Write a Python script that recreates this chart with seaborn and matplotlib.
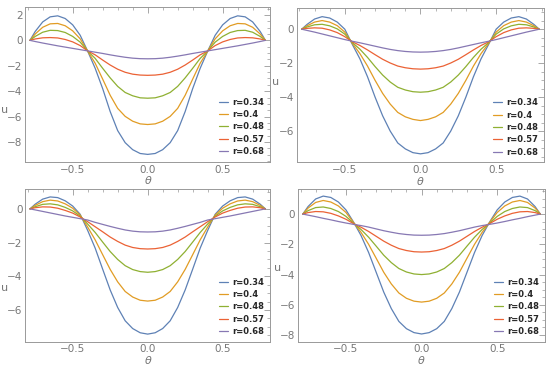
import pandas as pd
import seaborn as sns
import matplotlib.pyplot as plt
from matplotlib.ticker import MultipleLocator

# half profiles (theta >= 0), curves are symmetric in theta
theta_half = [0.0, 0.05, 0.1, 0.15, 0.2, 0.25, 0.3, 0.35, 0.4, 0.45,
              0.5, 0.55, 0.6, 0.65, 0.7, 0.75, 0.785]

r_labels = ["r=0.34", "r=0.4", "r=0.48", "r=0.57", "r=0.68"]
colors = ["#5E81B5", "#E19C24", "#8FB032", "#EB6235", "#8778B3"]

panel1 = [
    [-8.97, -8.9, -8.6, -8.05, -7.1, -5.6, -3.8, -2.2, -0.85, 0.4, 1.22, 1.72, 1.93, 1.85, 1.45, 0.7, 0],
    [-6.62, -6.57, -6.36, -5.98, -5.35, -4.32, -3.05, -1.8, -0.85, 0.12, 0.75, 1.15, 1.33, 1.3, 1.03, 0.5, 0],
    [-4.55, -4.52, -4.36, -4.1, -3.62, -2.95, -2.2, -1.42, -0.84, -0.14, 0.31, 0.62, 0.77, 0.79, 0.64, 0.31, 0],
    [-2.75, -2.73, -2.66, -2.51, -2.27, -1.94, -1.55, -1.14, -0.83, -0.41, -0.12, 0.07, 0.19, 0.22, 0.2, 0.11, 0],
    [-1.45, -1.44, -1.4, -1.33, -1.24, -1.14, -1.03, -0.93, -0.83, -0.73, -0.63, -0.53, -0.43, -0.32, -0.21, -0.09, 0],
]
panel2 = [
    [-7.34, -7.27, -7.05, -6.7, -6.0, -5.1, -4.0, -2.8, -1.75, -0.9, 0.0, 0.42, 0.66, 0.74, 0.6, 0.28, 0],
    [-5.38, -5.31, -5.16, -4.9, -4.41, -3.78, -3.01, -2.17, -1.44, -0.84, -0.17, 0.21, 0.42, 0.51, 0.42, 0.2, 0],
    [-3.71, -3.68, -3.58, -3.42, -3.11, -2.7, -2.2, -1.66, -1.18, -0.79, -0.29, 0.02, 0.2, 0.29, 0.26, 0.13, 0],
    [-2.35, -2.33, -2.27, -2.17, -1.99, -1.77, -1.5, -1.22, -0.96, -0.74, -0.44, -0.2, -0.04, 0.06, 0.08, 0.05, 0],
    [-1.35, -1.34, -1.31, -1.26, -1.19, -1.1, -1.0, -0.9, -0.8, -0.71, -0.61, -0.5, -0.39, -0.28, -0.17, -0.07, 0],
]
panel3 = [
    [-7.43, -7.35, -7.1, -6.64, -5.85, -4.81, -3.58, -2.33, -1.28, -0.32, 0.17, 0.48, 0.67, 0.71, 0.58, 0.28, 0],
    [-5.47, -5.42, -5.23, -4.9, -4.33, -3.59, -2.72, -1.84, -1.08, -0.37, 0.04, 0.3, 0.47, 0.52, 0.43, 0.21, 0],
    [-3.76, -3.72, -3.6, -3.37, -3.0, -2.53, -1.97, -1.4, -0.9, -0.43, -0.12, 0.09, 0.24, 0.3, 0.27, 0.13, 0],
    [-2.38, -2.36, -2.29, -2.15, -1.93, -1.67, -1.36, -1.06, -0.76, -0.48, -0.25, -0.09, 0.04, 0.11, 0.12, 0.07, 0],
    [-1.37, -1.36, -1.32, -1.25, -1.15, -1.04, -0.92, -0.8, -0.66, -0.58, -0.5, -0.42, -0.33, -0.24, -0.15, -0.06, 0],
]
panel4 = [
    [-7.93, -7.84, -7.58, -7.1, -6.25, -5.16, -3.85, -2.54, -1.42, -0.52, 0.28, 0.8, 1.1, 1.19, 1.0, 0.5, 0],
    [-5.82, -5.76, -5.57, -5.22, -4.62, -3.85, -2.92, -2.0, -1.21, -0.55, 0.11, 0.54, 0.8, 0.9, 0.77, 0.4, 0],
    [-4.0, -3.96, -3.83, -3.6, -3.21, -2.72, -2.12, -1.53, -1.02, -0.6, -0.15, 0.17, 0.37, 0.47, 0.43, 0.23, 0],
    [-2.51, -2.49, -2.41, -2.28, -2.06, -1.79, -1.47, -1.15, -0.87, -0.63, -0.34, -0.12, 0.05, 0.15, 0.17, 0.1, 0],
    [-1.4, -1.39, -1.35, -1.29, -1.2, -1.1, -0.98, -0.86, -0.76, -0.68, -0.59, -0.49, -0.38, -0.28, -0.17, -0.07, 0],
]

panels = [panel1, panel2, panel3, panel4]
ylims = [(-9.55, 2.65), (-7.85, 1.24), (-7.88, 1.19), (-8.44, 1.67)]
# axes rectangles in figure fractions
rects = [
    [0.046, 0.564, 0.445, 0.418],
    [0.540, 0.562, 0.449, 0.416],
    [0.046, 0.079, 0.445, 0.412],
    [0.542, 0.079, 0.449, 0.412],
]
ulabel_y = [0.30, 0.49, 0.32, 0.45]


def to_frame(curves):
    theta = [-t for t in theta_half[::-1]] + theta_half[1:]
    rows = []
    for lab, half in zip(r_labels, curves):
        u = half[::-1] + half[1:]
        rows.append(pd.DataFrame({"theta": theta, "u": u, "r": lab}))
    return pd.concat(rows, ignore_index=True)


sns.set_style("white")
plt.rcParams["font.family"] = ["DejaVu Sans"]

fig = plt.figure(figsize=(5.5, 3.71), dpi=100)
grey = "#999999"

for i, curves in enumerate(panels):
    ax = fig.add_axes(rects[i])
    df = to_frame(curves)
    sns.lineplot(df, x="theta", y="u", hue="r", palette=colors,
                 estimator=None, linewidth=0.9, ax=ax)

    ax.set_xlim(-0.816, 0.816)
    ax.set_ylim(*ylims[i])
    ax.set_xticks([-0.5, 0.0, 0.5])
    ax.set_xticklabels(["\u22120.5", "0.0", "0.5"])
    ax.xaxis.set_minor_locator(MultipleLocator(0.1))
    ax.yaxis.set_major_locator(MultipleLocator(2))
    ax.yaxis.set_minor_locator(MultipleLocator(0.5))
    ax.tick_params(which="both", direction="in", top=True, right=True,
                   color=grey, labelcolor="#777777", labelsize=7.5, pad=2)
    ax.tick_params(which="major", length=4, width=0.6)
    ax.tick_params(which="minor", length=2, width=0.5)
    for s in ax.spines.values():
        s.set_color(grey)
        s.set_linewidth(0.7)

    ax.set_xlabel("\u03b8", fontsize=8, color="#777777", style="italic", labelpad=1)
    ax.set_ylabel("u", fontsize=8, color="#777777", rotation=0)
    ax.yaxis.set_label_coords(-0.085, ulabel_y[i])

    ax.legend(loc="lower right", frameon=False, handlelength=1.1,
              handletextpad=0.5, labelspacing=0.4, borderaxespad=0.3,
              prop={"size": 6, "weight": "bold"})

fig.savefig("out.png", dpi=100)
